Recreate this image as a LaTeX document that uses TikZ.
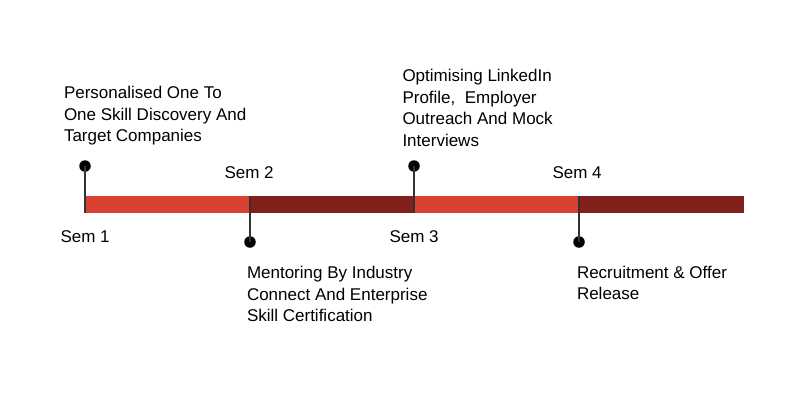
\documentclass[tikz,border=0pt]{standalone}
\usepackage{fontspec}
\setmainfont{Liberation Sans}
\definecolor{segred}{HTML}{D84132}
\definecolor{segdark}{HTML}{82211B}
\definecolor{stemgray}{HTML}{333333}
\begin{document}
\begin{tikzpicture}[x=1pt,y=-1pt,
  lbl/.style={inner sep=0pt,outer sep=0pt,font=\fontsize{17}{21.5}\selectfont,text=black},
  desc/.style={lbl,align=left,anchor=north west},
  sem/.style={lbl,anchor=base west},
  stem/.style={draw=stemgray,line width=1.1pt},
  dotm/.style={circle,fill=black,inner sep=0pt,minimum size=11.5pt}]
\useasboundingbox[fill=white] (0,0) rectangle (800,400);
% bar segments
\fill[segred]  (85,196) rectangle (250,212.5);
\fill[segdark] (250,196) rectangle (414,212.5);
\fill[segred]  (414,196) rectangle (579,212.5);
\fill[segdark] (579,196) rectangle (744,212.5);
% stem endpoints
\coordinate (b1) at (85,212.5);
\coordinate (b2) at (250,196);
\coordinate (b3) at (414,212.5);
\coordinate (b4) at (579,196);
\node[dotm] (d1) at (85,166) {};
\node[dotm] (d2) at (250,242) {};
\node[dotm] (d3) at (414,166) {};
\node[dotm] (d4) at (579,242) {};
\draw[stem] (d1.center) -- (b1);
\draw[stem] (b2) -- (d2.center);
\draw[stem] (d3.center) -- (b3);
\draw[stem] (b4) -- (d4.center);
% semester labels
\node[sem] (s1) at (60.5,242) {Sem 1};
\node[sem] (s2) at (224.5,178) {Sem 2};
\node[sem] (s3) at (389.5,242) {Sem 3};
\node[sem] (s4) at (552.5,178) {Sem 4};
% descriptions
\node[desc] (t1) at (64,86.5) {Personalised One To\\One Skill Discovery And\\Target Companies};
\node[desc] (t2) at (402.5,69.5) {Optimising LinkedIn\\Profile,\ \ Employer\\Outreach And Mock\\Interviews};
\node[desc] (t3) at (247,266.5) {Mentoring By Industry\\Connect And Enterprise\\Skill Certification};
\node[desc] (t4) at (577,266) {Recruitment \& Offer\\Release};
\end{tikzpicture}
\end{document}
